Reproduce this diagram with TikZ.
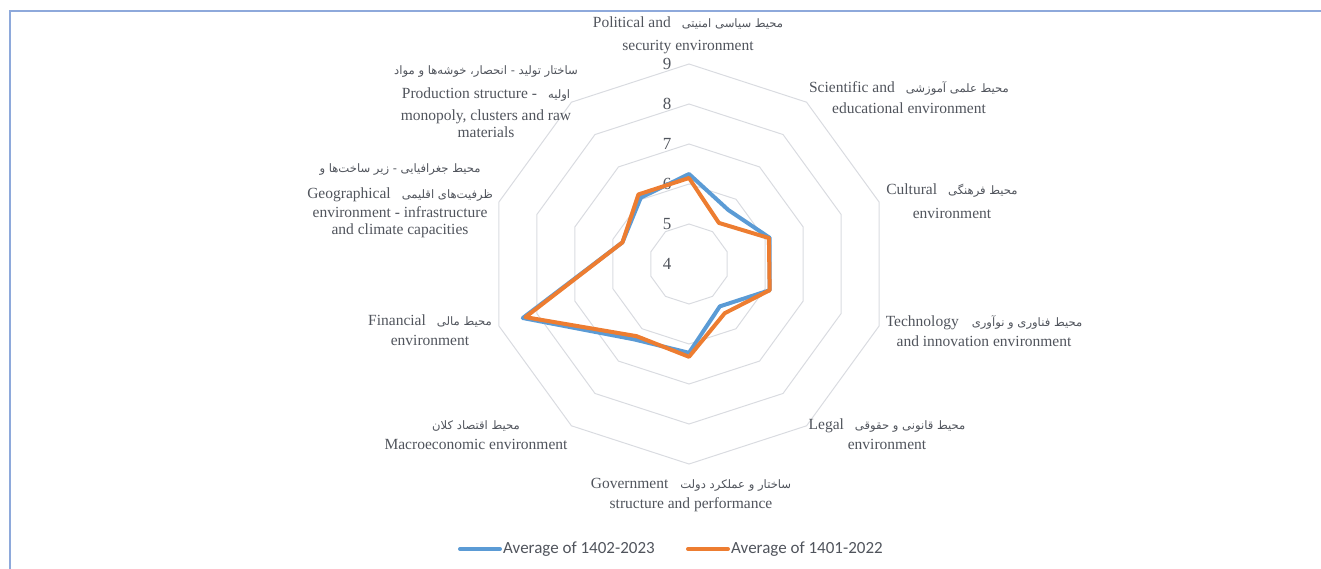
\documentclass[tikz,border=0pt]{standalone}
\usepackage{fontspec}
\setmainfont{Liberation Serif}
\newfontfamily\persfont[Script=Arabic]{DejaVu Sans}
\newfontfamily\legfont{Carlito}
\TeXXeTstate=1
\newcommand\pers[1]{{\persfont\fontsize{11.6}{17}\selectfont\beginR #1\endR}}
\definecolor{gridc}{RGB}{217,219,224}
\definecolor{txtc}{RGB}{80,84,92}
\definecolor{frm}{RGB}{142,169,219}
\definecolor{serA}{RGB}{91,155,213}
\definecolor{serB}{RGB}{237,125,49}
\tikzset{
  lbl/.style={align=center,text=txtc,inner sep=0pt,font=\fontsize{15.5}{17}\selectfont},
  tick/.style={text=txtc,inner sep=0pt,font=\fontsize{17}{17}\selectfont},
  ring/.style={draw=gridc,line width=1pt},
  series/.style={line width=4pt,line join=round},
  legtxt/.style={text=txtc,inner sep=0pt,anchor=west,font=\legfont\fontsize{17}{17}\selectfont}
}
\begin{document}
\begin{tikzpicture}[x=1pt,y=1pt]
\useasboundingbox (0,0) rectangle (1321,-569);
\draw[frm,line width=2pt] (10,-569) -- (10,-11) -- (1321,-11);

\begin{scope}[shift={(689,-264)}]
  % rings for 5 ... 9
  \foreach \r in {40,80,...,200}
    \draw[ring] (90:\r) \foreach \a in {54,18,...,-234}{ -- (\a:\r)} -- cycle;
  \foreach \v in {4,...,9}
    \node[tick] (tk\v) at (-22,{40*(\v-4)}) {\v};
  % 1402-2023
  \draw[series,serA] (90:{40*(6.25-4)})
    \foreach \a/\v in {54/5.67,18/6.12,-18/6.12,-54/5.31,-90/6.22,-126/6.33,-162/8.37,-198/5.75,-234/6.05}
    { -- (\a:{40*(\v-4)})} -- cycle;
  % 1401-2022
  \draw[series,serB] (90:{40*(6.15-4)})
    \foreach \a/\v in {54/5.27,18/6.10,-18/6.12,-54/5.52,-90/6.32,-126/6.23,-162/8.30,-198/5.75,-234/6.15}
    { -- (\a:{40*(\v-4)})} -- cycle;
\end{scope}

% category labels
\node[lbl] (tPol) at (688,-35.5) {Political and\hspace{11pt}\pers{محیط سیاسی امنیتی}\\[6pt]security environment};
\node[lbl] (tSci) at (909,-97.5) {Scientific and\hspace{11pt}\pers{محیط علمی آموزشی}\\[4pt]educational environment};
\node[lbl] (tCul) at (952,-201) {Cultural\hspace{11pt}\pers{محیط فرهنگی}\\[6.5pt]environment};
\node[lbl] (tTec) at (984,-331.5) {Technology\hspace{13pt}\pers{محیط فناوری و نوآوری}\\[3pt]and innovation environment};
\node[lbl] (tLeg) at (887,-434.5) {Legal\hspace{11pt}\pers{محیط قانونی و حقوقی}\\[3pt]environment};
\node[lbl] (tGov) at (691,-495) {Government\hspace{12pt}\pers{ساختار و عملکرد دولت}\\[3pt]structure and performance};
\node[lbl] (tMac) at (476,-435) {\pers{محیط اقتصاد کلان}\\[3pt]Macroeconomic environment};
\node[lbl] (tFin) at (430,-330) {Financial\hspace{11pt}\pers{محیط مالی}\\[3.5pt]environment};
\node[lbl] (tGeo) at (400,-200.5) {\pers{محیط جغرافیایی - زیر ساخت‌ها و}\\[9pt]Geographical\hspace{11pt}\pers{ظرفیت‌های اقلیمی}\\[2pt]environment - infrastructure\\and climate capacities};
\node[lbl] (tPro) at (486,-101.5) {\pers{ساختار تولید - انحصار، خوشه‌ها و مواد}\\[7pt]Production structure -\hspace{11pt}\pers{اولیه}\\[5pt]monopoly, clusters and raw\\materials};

% legend
\coordinate (sA) at (460,-549);
\node[legtxt] (legA) at (503,-549) {Average of 1402-2023};
\draw[serA,line width=4pt,line cap=round] (sA) -- ([xshift=-3pt]legA.west);
\coordinate (sB) at (688,-549);
\node[legtxt] (legB) at (731,-549) {Average of 1401-2022};
\draw[serB,line width=4pt,line cap=round] (sB) -- ([xshift=-3pt]legB.west);
\end{tikzpicture}
\end{document}
